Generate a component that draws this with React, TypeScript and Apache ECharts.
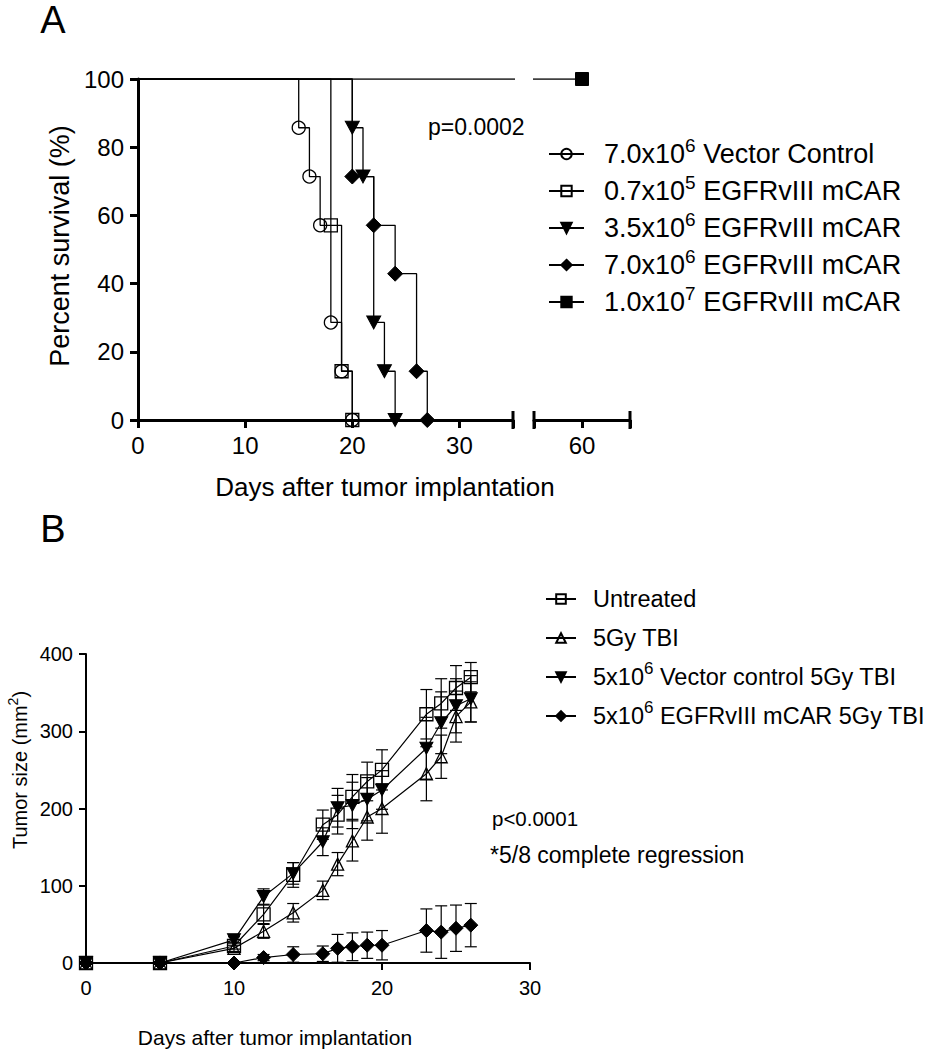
import React, { useEffect, useRef } from "react";
import * as echarts from "echarts";

const FONT = "'Liberation Sans', Arial, Helvetica, sans-serif";

// ---------- Panel A: Kaplan-Meier survival ----------
const namesA = [
  "7.0x10^6 Vector Control",
  "0.7x10^5 EGFRvIII mCAR",
  "3.5x10^6 EGFRvIII mCAR",
  "7.0x10^6 EGFRvIII mCAR",
  "1.0x10^7 EGFRvIII mCAR",
];
const kmVectorDays = [0, 15, 16, 17, 18, 19, 20];
const kmVectorSurv = [100, 85.7, 71.4, 57.1, 28.6, 14.3, 0];
const kmLowDays = [0, 18, 19, 20];
const kmLowSurv = [100, 57.1, 14.3, 0];
const kmMidDays = [0, 20, 21, 22, 23, 24];
const kmMidSurv = [100, 85.7, 71.4, 28.6, 14.3, 0];
const kmHighDays = [0, 20, 22, 24, 26, 27];
const kmHighSurv = [100, 71.4, 57.1, 42.9, 14.3, 0];
const kmTopDays = [0, 60];
const kmTopSurv = [100, 100];

// ---------- Panel B: tumor growth ----------
const namesB = [
  "Untreated",
  "5Gy TBI",
  "5x10^6 Vector control 5Gy TBI",
  "5x10^6 EGFRvIII mCAR 5Gy TBI",
];
const daysB = [0, 5, 10, 12, 14, 16, 17, 18, 19, 20, 23, 24, 25, 26];
const untreated = [0, 0, 22, 63, 114, 179, 192, 215, 235, 250, 322, 336, 356, 370];
const untreatedErr = [0, 0, 4, 12, 16, 19, 25, 29, 25, 26, 32, 32, 29, 19];
const tbi = [0, 0, 19, 41, 65, 94, 128, 158, 189, 200, 245, 267, 319, 338];
const tbiErr = [0, 0, 4, 9, 12, 12, 15, 26, 30, 32, 35, 28, 33, 26];
const vector = [0, 0, 30, 86, 116, 157, 201, 204, 212, 224, 278, 311, 333, 342];
const vectorErr = [0, 0, 4, 10, 14, 18, 25, 30, 28, 25, 40, 40, 35, 30];
const car = [0, 0, 0, 7, 11, 12, 19, 21, 23, 23, 42, 40, 45, 49];
const carErr = [0, 0, 0, 4, 10, 10, 18, 18, 17, 19, 28, 34, 30, 28];

const TRI_DOWN = "path://M0,0L12,0L6,11Z";

function buildOption() {
  const kmData = (xs: number[], ys: number[]) =>
    xs.map((x, i) => (i === 0 ? { value: [x, ys[i]], symbol: "none" } : [x, ys[i]]));

  const hollow = { color: "rgba(255,255,255,0)", borderColor: "#000", borderWidth: 1.3 };
  const filled = { color: "#000", borderColor: "#000", borderWidth: 1 };
  const lineA = { color: "#000", width: 1.3 };

  const kmSeries = (name: string, xs: number[], ys: number[], symbol: string, size: any, style: any, xi = 0, yi = 0) => ({
    name,
    type: "line",
    step: "end",
    xAxisIndex: xi,
    yAxisIndex: yi,
    data: kmData(xs, ys),
    symbol,
    symbolSize: size,
    itemStyle: style,
    lineStyle: lineA,
    clip: true,
    animation: false,
  });

  const lineB = { color: "#000", width: 1.2 };
  const growthSeries = (name: string, ys: number[], symbol: string, size: any, style: any) => ({
    name,
    type: "line",
    xAxisIndex: 2,
    yAxisIndex: 2,
    data: daysB.map((d, i) => [d, ys[i]]),
    symbol,
    symbolSize: size,
    itemStyle: style,
    lineStyle: lineB,
    animation: false,
  });

  const errSeries = (ys: number[], errs: number[]) => ({
    type: "custom",
    xAxisIndex: 2,
    yAxisIndex: 2,
    silent: true,
    data: daysB.map((d, i) => [d, ys[i], errs[i]]),
    renderItem: (params: any, api: any) => {
      const x = api.value(0);
      const y = api.value(1);
      const e = api.value(2);
      if (!e) return null;
      const top = api.coord([x, y + e]);
      const bot = api.coord([x, y - e]);
      const hw = 6;
      const st = { stroke: "#000", lineWidth: 1.2 };
      return {
        type: "group",
        children: [
          { type: "line", shape: { x1: top[0], y1: top[1], x2: bot[0], y2: bot[1] }, style: st },
          { type: "line", shape: { x1: top[0] - hw, y1: top[1], x2: top[0] + hw, y2: top[1] }, style: st },
          { type: "line", shape: { x1: bot[0] - hw, y1: bot[1], x2: bot[0] + hw, y2: bot[1] }, style: st },
        ],
      };
    },
    animation: false,
  });

  const fmt = (name: string) => {
    const m = name.match(/^(.*?)\^(\d+)(.*)$/);
    if (m) return `{f|${m[1]}}{s|${m[2]}}{n|${m[3]}}`;
    return `{f|${name}}{s| }`;
  };
  const richFor = (fs: number, pad: number, lh: number) => ({
    f: { fontSize: fs, fontFamily: FONT, color: "#000", lineHeight: lh, padding: [0, 0, 0, pad] },
    n: { fontSize: fs, fontFamily: FONT, color: "#000", lineHeight: lh },
    s: { fontSize: Math.round(fs * 0.72), fontFamily: FONT, color: "#000", lineHeight: Math.round(fs * 0.72), verticalAlign: "top" },
  });

  const axisA = (w: number, tl: number) => ({
    axisLine: { show: true, onZero: false, lineStyle: { color: "#000", width: w } },
    axisTick: { show: true, length: tl, lineStyle: { color: "#000", width: w } },
    splitLine: { show: false },
  });

  const capY1 = 420 - 9;
  const capY2 = 420 + 9;
  const capStyle = { stroke: "#000", lineWidth: 3 };

  return {
    animation: false,
    backgroundColor: "#fff",
    textStyle: { fontFamily: FONT, color: "#000" },
    grid: [
      { left: 138, top: 79, width: 375, height: 341 },
      { left: 534, top: 79, width: 96, height: 341 },
      { left: 86, top: 654, width: 444, height: 309 },
    ],
    xAxis: [
      {
        gridIndex: 0, type: "value", min: 0, max: 35, interval: 10,
        ...axisA(3, 8),
        axisLabel: {
          fontSize: 24, color: "#000", fontFamily: FONT, margin: 13,
          formatter: (v: number) => (v % 10 === 0 && v <= 30 ? String(v) : ""),
        },
      },
      {
        gridIndex: 1, type: "value", min: 55.5, max: 64.5, interval: 4.5,
        ...axisA(3, 8),
        axisLabel: {
          fontSize: 24, color: "#000", fontFamily: FONT, margin: 13,
          formatter: (v: number) => (Math.abs(v - 60) < 0.01 ? "60" : ""),
        },
      },
      {
        gridIndex: 2, type: "value", min: 0, max: 30, interval: 10,
        ...axisA(2, 7),
        axisLabel: { fontSize: 20, color: "#000", fontFamily: FONT, margin: 15 },
      },
    ],
    yAxis: [
      {
        gridIndex: 0, type: "value", min: 0, max: 100, interval: 20,
        ...axisA(3, 8),
        axisLabel: { fontSize: 24, color: "#000", fontFamily: FONT, margin: 14 },
      },
      { gridIndex: 1, type: "value", min: 0, max: 100, show: false },
      {
        gridIndex: 2, type: "value", min: 0, max: 400, interval: 100,
        ...axisA(2, 7),
        axisLabel: { fontSize: 20, color: "#000", fontFamily: FONT, margin: 13 },
      },
    ],
    legend: [
      {
        data: namesA, orient: "vertical", left: 548, top: 136,
        itemWidth: 35, itemHeight: 13, itemGap: 5.5, padding: 0,
        selectedMode: false, formatter: fmt,
        textStyle: { rich: richFor(27, 15, 36) },
      },
      {
        data: namesB, orient: "vertical", left: 545, top: 582,
        itemWidth: 30, itemHeight: 12, itemGap: 10, padding: 0,
        selectedMode: false, formatter: fmt,
        textStyle: { rich: richFor(23.5, 12, 34) },
      },
    ],
    series: [
      kmSeries(namesA[0], kmVectorDays, kmVectorSurv, "circle", 13, hollow),
      kmSeries(namesA[1], kmLowDays, kmLowSurv, "rect", 13, hollow),
      kmSeries(namesA[2], kmMidDays, kmMidSurv, TRI_DOWN, [14, 13], filled),
      kmSeries(namesA[3], kmHighDays, kmHighSurv, "diamond", 15, filled),
      kmSeries(namesA[4], kmTopDays, kmTopSurv, "rect", 13, filled),
      kmSeries(namesA[4], kmTopDays, kmTopSurv, "rect", 13, filled, 1, 1),
      errSeries(untreated, untreatedErr),
      errSeries(tbi, tbiErr),
      errSeries(vector, vectorErr),
      errSeries(car, carErr),
      growthSeries(namesB[0], untreated, "rect", 13, hollow),
      growthSeries(namesB[1], tbi, "triangle", 12, hollow),
      growthSeries(namesB[2], vector, TRI_DOWN, [13, 12], filled),
      growthSeries(namesB[3], car, "diamond", 14, filled),
    ],
    graphic: [
      { type: "line", shape: { x1: 513, y1: capY1, x2: 513, y2: capY2 }, style: capStyle },
      { type: "line", shape: { x1: 534, y1: capY1, x2: 534, y2: capY2 }, style: capStyle },
      { type: "line", shape: { x1: 630, y1: capY1, x2: 630, y2: capY2 }, style: capStyle },
      { type: "text", x: 53, y: 1, style: { text: "A", fontSize: 38, fontFamily: FONT, fill: "#000", align: "center", verticalAlign: "top" } },
      { type: "text", x: 53, y: 510, style: { text: "B", fontSize: 38, fontFamily: FONT, fill: "#000", align: "center", verticalAlign: "top" } },
      { type: "text", x: 428, y: 127, style: { text: "p=0.0002", fontSize: 23, fontFamily: FONT, fill: "#000", align: "left", verticalAlign: "middle" } },
      { type: "text", x: 385, y: 487, style: { text: "Days after tumor implantation", fontSize: 26, fontFamily: FONT, fill: "#000", align: "center", verticalAlign: "middle" } },
      { type: "text", x: 60, y: 246, rotation: Math.PI / 2, style: { text: "Percent survival (%)", fontSize: 27, fontFamily: FONT, fill: "#000", align: "center", verticalAlign: "middle" } },
      { type: "text", x: 492, y: 818, style: { text: "p<0.0001", fontSize: 20.5, fontFamily: FONT, fill: "#000", align: "left", verticalAlign: "middle" } },
      { type: "text", x: 490, y: 855, style: { text: "*5/8 complete regression", fontSize: 23, fontFamily: FONT, fill: "#000", align: "left", verticalAlign: "middle" } },
      { type: "text", x: 275, y: 1037, style: { text: "Days after tumor implantation", fontSize: 21, fontFamily: FONT, fill: "#000", align: "center", verticalAlign: "middle" } },
      {
        type: "text", x: 20, y: 770, rotation: Math.PI / 2,
        style: {
          text: "{n|Tumor size (mm}{s|2}{n|)}",
          align: "center", verticalAlign: "middle",
          rich: {
            n: { fontSize: 20, fontFamily: FONT, fill: "#000", lineHeight: 28 },
            s: { fontSize: 14, fontFamily: FONT, fill: "#000", lineHeight: 14, verticalAlign: "top" },
          },
        },
      },
    ],
  };
}

export default function App() {
  const ref = useRef<HTMLDivElement>(null);
  useEffect(() => {
    if (!ref.current) return;
    const chart = echarts.init(ref.current, null, { renderer: "svg" });
    chart.setOption(buildOption() as any);
    return () => chart.dispose();
  }, []);
  return (
    <div
      ref={ref}
      style={{ position: "fixed", left: 0, top: 0, width: 929, height: 1050, background: "#fff" }}
    />
  );
}
